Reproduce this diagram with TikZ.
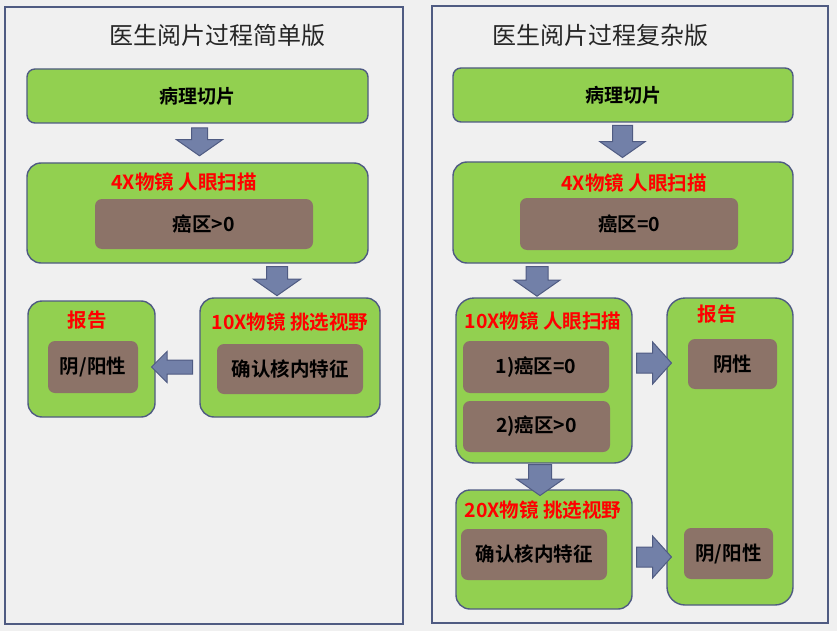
\documentclass[tikz,border=0pt]{standalone}
\usepackage{fontspec}
\setmainfont{Noto Sans CJK SC}[BoldFont={Noto Sans CJK SC Bold}]
\usetikzlibrary{shapes.arrows}

\definecolor{boxgreen}{HTML}{92D050}
\definecolor{boxbrown}{HTML}{8C7368}
\definecolor{edgeblue}{HTML}{4F5B82}
\definecolor{arrowblue}{HTML}{7280A8}
\definecolor{paper}{HTML}{F0F0F0}
\definecolor{titlegray}{HTML}{262626}

\tikzset{
  panel/.style={draw=edgeblue, line width=2.2pt, fill=paper},
  stage/.style={draw=edgeblue, line width=1.4pt, fill=boxgreen, rounded corners=#1, inner sep=0pt},
  stage/.default=14pt,
  finding/.style={fill=boxbrown, rounded corners=7pt, inner sep=0pt, font=\bfseries\fontsize{19.5}{21}\selectfont},
  headline/.style={text=red, font=\bfseries\fontsize{19.5}{21}\selectfont},
  fat/.style={single arrow, draw=edgeblue, fill=arrowblue, line width=1pt, inner sep=0pt, text height=#1, text width=#1, text depth=0pt},
}

\begin{document}
\begin{tikzpicture}[x=1pt, y=-1pt]
  \useasboundingbox (0,0) rectangle (837,631);
  \fill[paper] (0,0) rectangle (837,631);

  % simple version
  \draw[panel] (5,7) rectangle (403,624);
  \node[text=titlegray, font=\fontsize{24}{26}\selectfont] (titleA) at (217,35) {医生阅片过程简单版};

  \node[stage=8pt, minimum width=341pt, minimum height=54pt, font=\bfseries\fontsize{19}{21}\selectfont] (sliceA) at (197.5,96) {病理切片};
  \node[stage, minimum width=341pt, minimum height=100pt] (scanA) at (197.5,213) {};
  \node[headline] (scanAhead) at (184,182) {4X物镜 人眼扫描};
  \node[finding, minimum width=218pt, minimum height=50pt] (areaA) at (204,224) {癌区>0};

  \node[stage, minimum width=127pt, minimum height=116pt] (reportA) at (91.5,359) {};
  \node[headline] (reportAhead) at (87,320) {报告};
  \node[finding, minimum width=90pt, minimum height=52pt] (resultA) at (93,367) {阴/阳性};

  \node[stage, minimum width=180pt, minimum height=119pt] (selectA) at (290,357.5) {};
  \node[headline] (selectAhead) at (290,322) {10X物镜 挑选视野};
  \node[finding, minimum width=146pt, minimum height=50pt] (featureA) at (290,369) {确认核内特征};

  \node[fat=15pt, shape border rotate=270, single arrow head extend=15pt, single arrow tip angle=110, minimum height=28pt] (arrA1) at (199.5,139) {};
  \node[fat=20pt, shape border rotate=270, single arrow head extend=13pt, single arrow tip angle=110, minimum height=29pt] (arrA2) at (277,277.5) {};
  \node[fat=13pt, shape border rotate=180, single arrow head extend=8.5pt, single arrow tip angle=90, minimum height=41pt] (arrA3) at (175.5,367) {};

  % complex version
  \draw[panel] (432,6) rectangle (828,623);
  \node[text=titlegray, font=\fontsize{24}{26}\selectfont] (titleB) at (600,35) {医生阅片过程复杂版};

  \node[stage=8pt, minimum width=340pt, minimum height=54pt, font=\bfseries\fontsize{19}{21}\selectfont] (sliceB) at (623,95) {病理切片};
  \node[stage, minimum width=340pt, minimum height=101pt] (scanB) at (623,212.5) {};
  \node[headline] (scanBhead) at (634,183) {4X物镜 人眼扫描};
  \node[finding, minimum width=218pt, minimum height=52pt] (areaB) at (629,224) {癌区=0};

  \node[stage=18pt, minimum width=176pt, minimum height=165pt] (scanC) at (544,380.5) {};
  \node[headline] (scanChead) at (543,321) {10X物镜 人眼扫描};
  \node[finding, minimum width=146pt, minimum height=52pt] (zeroC) at (536,367) {1)癌区=0};
  \node[finding, minimum width=147pt, minimum height=51pt] (posC) at (536.5,426.5) {2)癌区>0};

  \node[stage, minimum width=176pt, minimum height=119pt] (selectB) at (544,549.5) {};
  \node[headline] (selectBhead) at (543,510) {20X物镜 挑选视野};
  \node[finding, minimum width=146pt, minimum height=51pt] (featureB) at (534,554.5) {确认核内特征};

  \node[stage=18pt, minimum width=126pt, minimum height=307pt] (reportB) at (730,451.5) {};
  \node[headline] (reportBhead) at (717,314) {报告};
  \node[finding, minimum width=89pt, minimum height=50pt] (negB) at (732.5,364) {阴性};
  \node[finding, minimum width=89pt, minimum height=51pt] (resultB) at (728.5,553.5) {阴/阳性};

  \node[fat=19pt, shape border rotate=270, single arrow head extend=12.5pt, single arrow tip angle=110, minimum height=32pt] (arrB1) at (622.5,138) {};
  \node[fat=21pt, shape border rotate=270, single arrow head extend=12pt, single arrow tip angle=110, minimum height=29pt] (arrB2) at (537,277.5) {};
  \node[fat=22pt, shape border rotate=270, single arrow head extend=12pt, single arrow tip angle=110, minimum height=26pt] (arrB3) at (540,476) {};
  \foreach \y/\n in {363/4, 557/5}
    \node[fat=19pt, single arrow head extend=11pt, single arrow tip angle=96, minimum height=35pt] (arrB\n) at (649.5,\y) {};
\end{tikzpicture}
\end{document}
